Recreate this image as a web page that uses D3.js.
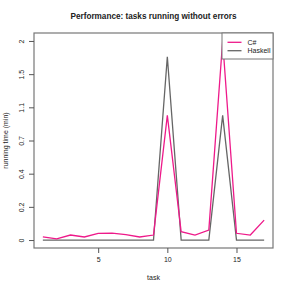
<!DOCTYPE html>
<html>
<head>
<meta charset="utf-8">
<script src="https://cdn.jsdelivr.net/npm/d3@7"></script>
<style>
  body { margin: 0; background: #fff; }
  text { font-family: "Liberation Sans", Arial, sans-serif; fill: #222; }
</style>
</head>
<body>
<div id="chart"></div>
<script>
// task numbers and running times (min)
var tasks = [1, 2, 3, 4, 5, 6, 7, 8, 9, 10, 11, 12, 13, 14, 15, 16, 17];
var csharp = [0.018, 0.007, 0.028, 0.017, 0.038, 0.039, 0.030, 0.017, 0.028, 0.99, 0.047, 0.028, 0.057, 2.0, 0.038, 0.028, 0.116];
var haskell = [0, 0, 0, 0, 0, 0, 0, 0, 0, 1.75, 0, 0, 0, 0.99, 0, 0, 0];
var seriesNames = ["C#", "Haskell"];
var seriesColors = ["#ee1a8a", "#666666"];
var xTicks = [5, 10, 15];
var yTickLabels = ["0", "0.2", "0.4", "0.7", "1.1", "1.5", "2"];

drawChart(291, 291);

function drawChart(w, h) {
  var margin = {top: 33, right: 18, bottom: 43, left: 34},
    width = w - margin.left - margin.right,
    height = h - margin.top - margin.bottom;

  var svg = d3.select("#chart").append("svg")
      .attr("width", w)
      .attr("height", h);

  var g = svg.append("g")
      .attr("transform", "translate(" + margin.left + "," + margin.top + ")");

  // R style 4% padding on both axes
  var xpad = (17 - 1) * 0.04;
  var x = d3.scaleLinear()
      .domain([1 - xpad, 17 + xpad])
      .range([0, width]);

  // values are plotted on log(1 + t)
  var ymax = d3.max(csharp);
  var lmax = Math.log1p(ymax);
  var ly = d3.scaleLinear()
      .domain([-lmax * 0.04, lmax * 1.04])
      .range([height, 0]);
  var y = function(v) { return ly(Math.log1p(v)); };

  // y ticks are evenly spaced in log space
  var yTicks = yTickLabels.map(function(l, i) { return lmax * i / (yTickLabels.length - 1); });

  var data = [csharp, haskell];
  var line = d3.line()
      .x(function(d, i) { return x(tasks[i]); })
      .y(function(d) { return y(d); });

  // haskell under c#
  g.selectAll(".series")
      .data([1, 0])
      .enter().append("path")
      .attr("class", "series")
      .attr("d", function(k) { return line(data[k]); })
      .attr("fill", "none")
      .attr("stroke", function(k) { return seriesColors[k]; })
      .attr("stroke-width", 1.3);

  // box
  g.append("rect")
      .attr("x", 0).attr("y", 0)
      .attr("width", width).attr("height", height)
      .attr("fill", "none")
      .attr("stroke", "#777")
      .attr("stroke-width", 1.2);

  // x axis
  var xa = g.append("g")
      .attr("transform", "translate(0," + height + ")")
      .call(d3.axisBottom(x).tickValues(xTicks).tickSize(5).tickPadding(4));
  xa.select(".domain").remove();
  xa.selectAll("line").attr("stroke", "#555");
  xa.selectAll("text").style("font-size", "7px").attr("fill", "#222");

  // y axis
  var ya = g.append("g")
      .call(d3.axisLeft(ly).tickValues(yTicks).tickSize(5)
        .tickFormat(function(d, i) { return yTickLabels[i]; }));
  ya.select(".domain").remove();
  ya.selectAll("line").attr("stroke", "#555");
  ya.selectAll("text")
      .style("font-size", "7px")
      .attr("fill", "#222")
      .attr("x", null).attr("dy", null)
      .attr("text-anchor", "middle")
      .attr("transform", "translate(-10,0) rotate(-90)");

  // legend
  var lw = 51, lh = 26;
  var lg = g.append("g")
      .attr("transform", "translate(" + (width - lw) + ",0)");
  lg.append("rect")
      .attr("width", lw).attr("height", lh)
      .attr("fill", "#fff")
      .attr("stroke", "#777")
      .attr("stroke-width", 1);
  var items = lg.selectAll(".item")
      .data(seriesNames)
      .enter().append("g")
      .attr("transform", function(d, i) { return "translate(0," + (9.3 + i * 8.4) + ")"; });
  items.append("line")
      .attr("x1", 5.5).attr("x2", 19.5)
      .attr("stroke", function(d, i) { return seriesColors[i]; })
      .attr("stroke-width", 1.3);
  items.append("text")
      .attr("x", 25.5).attr("dy", "0.35em")
      .style("font-size", "7px")
      .text(function(d) { return d; });

  // titles
  svg.append("text")
      .attr("x", margin.left + width / 2).attr("y", 19)
      .attr("text-anchor", "middle")
      .style("font-size", "8.2px").style("font-weight", "bold")
      .attr("fill", "#000")
      .text("Performance: tasks running without errors");
  svg.append("text")
      .attr("x", margin.left + width / 2).attr("y", 280)
      .attr("text-anchor", "middle")
      .style("font-size", "7px")
      .text("task");
  svg.append("text")
      .attr("transform", "translate(8," + (margin.top + height / 2) + ") rotate(-90)")
      .attr("text-anchor", "middle")
      .style("font-size", "7px")
      .text("running time (min)");
}
</script>
</body>
</html>
